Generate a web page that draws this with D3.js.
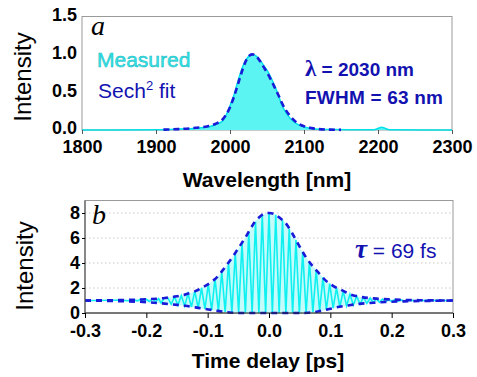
<!DOCTYPE html>
<html>
<head>
<meta charset="utf-8">
<script src="https://cdn.jsdelivr.net/npm/d3@7"></script>
<style>
  body { margin: 0; background: #fff; }
  svg { font-family: Arial, "Liberation Sans", sans-serif; }
  .tick text { font-weight: bold; font-size: 18px; fill: #000; }
</style>
</head>
<body>
<script>
// ---- data ----
// (a) spectrum, measured
const specWl = [1800, 1900, 1920, 1940, 1950, 1960, 1973, 1980, 1985, 1991, 2000, 2005, 2010, 2015, 2020, 2025, 2030, 2035, 2040, 2045, 2050, 2055, 2060, 2065, 2070, 2075, 2080, 2086, 2092, 2100, 2110, 2122, 2140, 2160, 2195, 2200, 2205, 2210, 2215, 2300];
const specI  = [0, 0.003, 0.008, 0.015, 0.02, 0.03, 0.045, 0.07, 0.09, 0.13, 0.32, 0.45, 0.62, 0.78, 0.9, 0.97, 1.0, 0.98, 0.93, 0.86, 0.79, 0.7, 0.59, 0.47, 0.33, 0.24, 0.17, 0.11, 0.07, 0.04, 0.02, 0.01, 0.005, 0.003, 0.003, 0.02, 0.035, 0.02, 0.004, 0];
// (a) sech^2 fit
const fitWl = [1910, 1930, 1950, 1970, 1980, 1990, 2000, 2005, 2010, 2015, 2020, 2025, 2030, 2035, 2040, 2045, 2050, 2055, 2060, 2065, 2070, 2075, 2080, 2090, 2100, 2110, 2120, 2135, 2150];
const fitI  = [0.005, 0.012, 0.025, 0.05, 0.08, 0.14, 0.3, 0.43, 0.58, 0.74, 0.88, 0.97, 1.0, 0.98, 0.92, 0.84, 0.76, 0.67, 0.57, 0.47, 0.36, 0.27, 0.2, 0.1, 0.05, 0.025, 0.012, 0.005, 0.002];

// (b) interferometric autocorrelation trace
const acT = [-0.3, -0.28, -0.26, -0.24, -0.23, -0.22, -0.215, -0.21, -0.205, -0.2, -0.195, -0.19, -0.185, -0.18, -0.176, -0.171,
  -0.165, -0.1595, -0.154, -0.1485, -0.143, -0.1375, -0.132, -0.1265, -0.121, -0.1155, -0.11, -0.1045, -0.099, -0.0935, -0.088, -0.0825,
  -0.077, -0.0715, -0.066, -0.0605, -0.055, -0.0495, -0.044, -0.0385, -0.033, -0.0275, -0.022, -0.0165, -0.011, -0.0055,
  0, 0.0055, 0.011, 0.0165, 0.022, 0.0275, 0.033, 0.0385, 0.044, 0.0495, 0.055, 0.0605, 0.066, 0.0715, 0.077, 0.0825,
  0.088, 0.0935, 0.099, 0.1045, 0.11, 0.1155, 0.121, 0.1265, 0.132, 0.1375, 0.143, 0.1485, 0.154, 0.1595, 0.165,
  0.17, 0.175, 0.18, 0.185, 0.19, 0.195, 0.2, 0.205, 0.21, 0.215, 0.22, 0.23, 0.24, 0.26, 0.28, 0.3];
const acV = [1.0, 1.0, 1.02, 1.03, 0.98, 1.06, 0.97, 1.08, 0.95, 1.1, 0.92, 1.12, 0.9, 1.15, 0.8, 1.18,
  1.22, 0.7, 1.3, 0.63, 1.4, 0.56, 1.55, 0.48, 1.75, 0.4, 2.0, 0.31, 2.3, 0.22, 2.75, 0.15,
  3.3, 0.08, 4.0, 0.03, 4.8, 0, 5.6, 0, 6.5, 0, 7.3, 0, 7.85, 0,
  8.0, 0, 7.85, 0, 7.45, 0, 6.75, 0, 5.85, 0, 4.9, 0.02, 4.1, 0.06, 3.45, 0.14,
  2.85, 0.26, 2.35, 0.38, 2.0, 0.48, 1.75, 0.57, 1.5, 0.64, 1.35, 0.7, 1.27, 0.76, 1.2,
  0.82, 1.16, 0.86, 1.12, 0.9, 1.1, 0.93, 1.07, 0.95, 1.05, 0.97, 1.03, 0.98, 1.01, 1.0, 1.0];
// (b) envelopes of the sech^2 fit
const upT = [-0.3, -0.25, -0.2, -0.17, -0.155, -0.137, -0.12, -0.11, -0.095, -0.085, -0.075, -0.065, -0.055, -0.045, -0.039, -0.031, -0.023, -0.015, -0.008, 0, 0.008, 0.018, 0.029, 0.037, 0.045, 0.053, 0.061, 0.072, 0.082, 0.091, 0.105, 0.118, 0.132, 0.145, 0.17, 0.2, 0.25, 0.3];
const upV = [1.0, 1.03, 1.1, 1.2, 1.3, 1.47, 1.75, 2.0, 2.45, 2.85, 3.45, 4.1, 4.8, 5.55, 6.0, 6.67, 7.3, 7.7, 7.93, 8.0, 7.93, 7.6, 7.07, 6.45, 5.75, 5.05, 4.4, 3.7, 3.15, 2.67, 2.15, 1.85, 1.5, 1.33, 1.17, 1.08, 1.02, 1.0];
const loT = [-0.3, -0.25, -0.2, -0.17, -0.15, -0.137, -0.12, -0.11, -0.09, -0.072, -0.06, -0.05, 0.05, 0.064, 0.08, 0.094, 0.11, 0.129, 0.145, 0.17, 0.19, 0.22, 0.26, 0.3];
const loV = [1.0, 0.95, 0.87, 0.75, 0.65, 0.58, 0.45, 0.37, 0.22, 0.08, 0.02, 0, 0, 0.02, 0.12, 0.27, 0.45, 0.6, 0.72, 0.82, 0.88, 0.93, 0.97, 1.0];

const topXTicks = [1800, 1900, 2000, 2100, 2200, 2300];
const topYTicks = [0, 0.5, 1.0, 1.5];
const botXTicks = [-0.3, -0.2, -0.1, 0, 0.1, 0.2, 0.3];
const botYTicks = [0, 2, 4, 6, 8];

const width = 477, height = 377;
const svg = d3.select("body").append("svg").attr("width", width).attr("height", height);

const cyanFill = "#5cf3f3", cyanLine = "#00e0e8", fitBlue = "#1a1ad8", textBlue = "#1212b0";
const serif = "'Liberation Serif', 'Times New Roman', serif";

// ================= panel a =================
const xA = d3.scaleLinear().domain([1800, 2300]).range([82, 452]);
const yA = d3.scaleLinear().domain([0, 1.5]).range([130, 16.5]);

const spec = specWl.map((w, i) => ({ x: w, y: specI[i] }));
const fit = fitWl.map((w, i) => ({ x: w, y: fitI[i] }));

svg.append("rect").attr("x", 82).attr("y", 16.5).attr("width", 370).attr("height", 113.5)
  .attr("fill", "none").attr("stroke", "#9a9a9a");

svg.append("path").datum(spec)
  .attr("fill", cyanFill)
  .attr("d", d3.area().x(d => xA(d.x)).y0(yA(0)).y1(d => yA(d.y)).curve(d3.curveMonotoneX));
svg.append("path").datum(spec)
  .attr("fill", "none").attr("stroke", cyanLine).attr("stroke-width", 1.5)
  .attr("d", d3.line().x(d => xA(d.x)).y(d => yA(d.y)).curve(d3.curveMonotoneX));
svg.append("path").datum(fit)
  .attr("fill", "none").attr("stroke", fitBlue).attr("stroke-width", 2.6)
  .attr("stroke-dasharray", "6,4")
  .attr("d", d3.line().x(d => xA(d.x)).y(d => yA(d.y)).curve(d3.curveMonotoneX));

const axA = svg.append("g").attr("transform", "translate(0,130)")
  .call(d3.axisBottom(xA).tickValues(topXTicks).tickSize(4).tickPadding(6).tickFormat(d3.format("d")));
const ayA = svg.append("g").attr("transform", "translate(82,0)")
  .call(d3.axisLeft(yA).tickValues(topYTicks).tickSize(0).tickPadding(5).tickFormat(d3.format(".1f")));
[axA, ayA].forEach(g => g.select(".domain").remove());
axA.selectAll(".tick line").attr("stroke", "#555");
ayA.selectAll(".tick text").attr("dy", "0.22em");

svg.append("text").attr("x", 91).attr("y", 35).style("font-family", serif)
  .attr("font-style", "italic").attr("font-size", 28).text("a");
svg.append("text").attr("x", 97).attr("y", 67).attr("font-size", 21).attr("fill", "#33e6e6")
  .attr("stroke", "#1bb8c4").attr("stroke-width", 0.5).text("Measured");
const sech = svg.append("text").attr("x", 98).attr("y", 98).attr("font-size", 21).attr("fill", textBlue);
sech.append("tspan").text("Sech");
sech.append("tspan").attr("dy", -8).attr("font-size", 13).text("2");
sech.append("tspan").attr("dy", 8).text(" fit");

const lam = svg.append("text").attr("x", 305).attr("y", 76).attr("font-size", 19).attr("font-weight", "bold").attr("fill", textBlue);
lam.append("tspan").style("font-family", serif).attr("font-size", 23).text("λ");
lam.append("tspan").text(" = 2030 nm");
svg.append("text").attr("x", 305).attr("y", 104).attr("font-size", 19).attr("font-weight", "bold")
  .attr("fill", textBlue).attr("textLength", 138).text("FWHM = 63 nm");

svg.append("text").attr("x", 267).attr("y", 187).attr("text-anchor", "middle")
  .attr("font-size", 21).attr("font-weight", "bold").text("Wavelength [nm]");
svg.append("text").attr("transform", "translate(31,77) rotate(-90)").attr("text-anchor", "middle")
  .attr("font-size", 24).text("Intensity");

// ================= panel b =================
const xB = d3.scaleLinear().domain([-0.3, 0.3]).range([85, 453]);
const yB = d3.scaleLinear().domain([0, 9]).range([313, 200.5]);

svg.append("g").selectAll("line").data(botYTicks.filter(d => d > 0)).join("line")
  .attr("x1", 85).attr("x2", 453).attr("y1", d => yB(d)).attr("y2", d => yB(d))
  .attr("stroke", "#c8c8c8").attr("stroke-dasharray", "1.5,2.5");

svg.append("rect").attr("x", 85).attr("y", 200.5).attr("width", 368).attr("height", 112.5)
  .attr("fill", "none").attr("stroke", "#9a9a9a");

const envLine = d3.line().x(d => xB(d.x)).y(d => yB(d.y)).curve(d3.curveMonotoneX);
const up = upT.map((t, i) => ({ x: t, y: upV[i] }));
const lo = loT.map((t, i) => ({ x: t, y: loV[i] }));

// pale band between the fringes
svg.append("path")
  .attr("fill", "#c4fbfb")
  .attr("d", envLine(up) + "L" + envLine(lo.slice().reverse()).slice(1) + "Z");

const ac = acT.map((t, i) => ({ x: t, y: acV[i] }));
svg.append("path").datum(ac)
  .attr("fill", "none").attr("stroke", "#0ff0f0").attr("stroke-width", 1.6)
  .attr("d", d3.line().x(d => xB(d.x)).y(d => yB(d.y)));

svg.append("path").datum(up)
  .attr("fill", "none").attr("stroke", fitBlue).attr("stroke-width", 2.6).attr("stroke-dasharray", "6,5")
  .attr("d", envLine);
svg.append("path").datum(lo)
  .attr("fill", "none").attr("stroke", fitBlue).attr("stroke-width", 2.6).attr("stroke-dasharray", "6,5")
  .attr("d", envLine);

svg.append("line").attr("x1", 85).attr("x2", 453).attr("y1", 313).attr("y2", 313).attr("stroke", "#222");
svg.append("line").attr("x1", 85).attr("x2", 85).attr("y1", 200.5).attr("y2", 313).attr("stroke", "#444");

const axB = svg.append("g").attr("transform", "translate(0,313)")
  .call(d3.axisBottom(xB).tickValues(botXTicks).tickSize(5).tickPadding(6).tickFormat(d3.format(".1f")));
const ayB = svg.append("g").attr("transform", "translate(85,0)")
  .call(d3.axisLeft(yB).tickValues(botYTicks).tickSize(3).tickPadding(2).tickFormat(d3.format("d")));
[axB, ayB].forEach(g => g.select(".domain").remove());
axB.selectAll(".tick text").text(d => d3.format(".1f")(d).replace("−", "-"));
ayB.selectAll(".tick text").attr("dy", "0.28em");

svg.append("text").attr("x", 92).attr("y", 224).style("font-family", serif)
  .attr("font-style", "italic").attr("font-size", 28).text("b");
const tau = svg.append("text").attr("x", 355).attr("y", 258).attr("font-size", 21).attr("fill", textBlue);
tau.append("tspan").style("font-family", serif).attr("font-style", "italic")
  .attr("font-weight", "bold").attr("font-size", 27).text("τ");
tau.append("tspan").text(" = 69 fs");

svg.append("text").attr("x", 268).attr("y", 368).attr("text-anchor", "middle")
  .attr("font-size", 21).attr("font-weight", "bold").text("Time delay [ps]");
svg.append("text").attr("transform", "translate(33,266) rotate(-90)").attr("text-anchor", "middle")
  .attr("font-size", 24).text("Intensity");
</script>
</body>
</html>
